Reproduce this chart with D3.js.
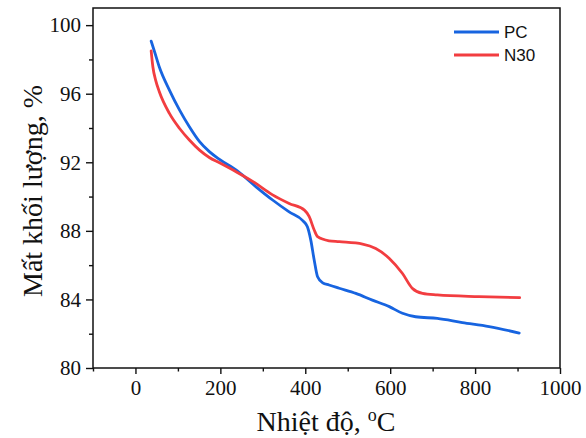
<!DOCTYPE html>
<html>
<head>
<meta charset="utf-8">
<script src="https://cdn.jsdelivr.net/npm/d3@7"></script>
<style>
html,body{margin:0;padding:0;background:#fff;}
svg{display:block;}
</style>
</head>
<body>
<svg id="chart" width="586" height="438"></svg>
<script>
// Data
const seriesNames = ["PC", "N30"];
const pcTemp = [37, 45, 56, 80, 104, 127, 151, 174, 198, 240, 284, 323, 362, 394, 405, 413, 421, 429, 441, 456, 480, 519, 558, 598, 629, 660, 711, 770, 833, 904];
const pcMass = [99.07, 98.45, 97.57, 96.21, 95.04, 94.07, 93.2, 92.62, 92.17, 91.5, 90.57, 89.80, 89.11, 88.60, 88.24, 87.46, 86.30, 85.32, 84.97, 84.84, 84.65, 84.35, 83.96, 83.58, 83.19, 82.99, 82.89, 82.65, 82.42, 82.04];
const n30Temp = [37, 41, 48, 56, 80, 104, 127, 151, 174, 198, 237, 276, 323, 362, 398, 409, 421, 429, 456, 480, 535, 566, 598, 629, 652, 676, 711, 809, 905];
const n30Mass = [98.5, 97.57, 96.75, 96.13, 94.85, 93.97, 93.3, 92.71, 92.28, 91.97, 91.45, 90.89, 90.10, 89.60, 89.21, 88.84, 88.05, 87.66, 87.42, 87.37, 87.23, 86.97, 86.39, 85.51, 84.65, 84.35, 84.26, 84.16, 84.10];
const xTicks = [0, 200, 400, 600, 800, 1000];
const xMinorTicks = [-100, 100, 300, 500, 700, 900];
const yTicks = [80, 84, 88, 92, 96, 100];
const yMinorTicks = [82, 86, 90, 94, 98];
const xTitle = "Nhiệt độ, ";
const yTitle = "Mất khối lượng, %";
const colors = ["#1764e0", "#f23d40"];

const svg = d3.select("#chart");
const W = 586, H = 438;
const m = {left: 93, right: 26, top: 8, bottom: 70};

const x = d3.scaleLinear().domain([-100, 1000]).range([m.left, W - m.right]);
const y = d3.scaleLinear().domain([80, 101]).range([H - m.bottom, m.top]);

svg.append("rect").attr("width", W).attr("height", H).attr("fill", "#ffffff");

const serif = "'Liberation Serif','Times New Roman',serif";
const sans = "'Liberation Sans',Arial,sans-serif";

// Axes
svg.append("g").attr("transform", `translate(0,${H - m.bottom})`)
  .call(d3.axisBottom(x).tickValues(xTicks).tickSize(6).tickPadding(6).tickFormat(d3.format("d")));
svg.append("g").attr("transform", `translate(0,${H - m.bottom})`)
  .call(d3.axisBottom(x).tickValues(xMinorTicks).tickSize(3.5).tickFormat(""))
  .call(g => g.select(".domain").remove());
svg.append("g").attr("transform", `translate(${m.left},0)`)
  .call(d3.axisLeft(y).tickValues(yTicks).tickSize(7).tickPadding(5).tickFormat(d3.format("d")));
svg.append("g").attr("transform", `translate(${m.left},0)`)
  .call(d3.axisLeft(y).tickValues(yMinorTicks).tickSize(4).tickFormat(""))
  .call(g => g.select(".domain").remove());

svg.selectAll(".tick line").attr("stroke", "#111").attr("stroke-width", 1.4);
svg.selectAll(".domain").remove();
svg.selectAll(".tick text").attr("font-family", serif).attr("font-size", 21).attr("fill", "#111");

// Frame
svg.append("rect")
  .attr("x", x(-100)).attr("y", y(101))
  .attr("width", x(1000) - x(-100)).attr("height", y(80) - y(101))
  .attr("fill", "none").attr("stroke", "#111").attr("stroke-width", 1.5);

// Lines
const line = d3.line().x(d => x(d[0])).y(d => y(d[1])).curve(d3.curveMonotoneX);
const pcData = pcTemp.map((t, i) => [t, pcMass[i]]);
const n30Data = n30Temp.map((t, i) => [t, n30Mass[i]]);
[pcData, n30Data].forEach((data, i) => {
  svg.append("path").datum(data)
    .attr("d", line)
    .attr("fill", "none")
    .attr("stroke", colors[i])
    .attr("stroke-width", 2.8)
    .attr("stroke-linejoin", "round")
    .attr("stroke-linecap", "round");
});

// Legend
seriesNames.forEach((name, i) => {
  const ly = 32 + i * 23;
  svg.append("line").attr("x1", 454).attr("x2", 499).attr("y1", ly).attr("y2", ly)
    .attr("stroke", colors[i]).attr("stroke-width", 2.8);
  svg.append("text").attr("x", 504).attr("y", ly + 6)
    .attr("font-family", sans).attr("font-size", 17).attr("fill", "#111").text(name);
});

// Axis titles
const xt = svg.append("text").attr("x", 326).attr("y", 431)
  .attr("text-anchor", "middle").attr("font-family", serif).attr("font-size", 28).attr("fill", "#111");
xt.append("tspan").text(xTitle);
xt.append("tspan").attr("font-size", 18).attr("dy", -10).text("o");
xt.append("tspan").attr("dy", 10).text("C");

svg.append("text")
  .attr("transform", `translate(42,191) rotate(-90)`)
  .attr("text-anchor", "middle").attr("font-family", serif).attr("font-size", 28).attr("fill", "#111")
  .text(yTitle);
</script>
</body>
</html>
